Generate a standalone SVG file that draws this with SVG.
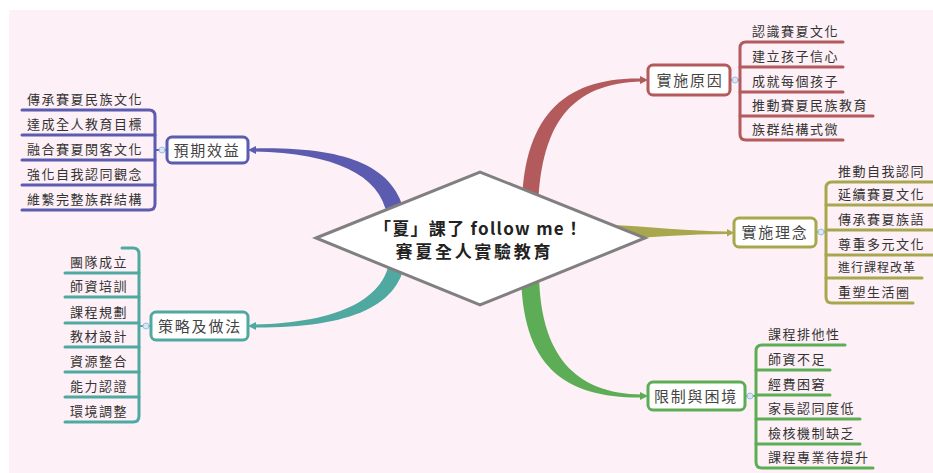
<svg xmlns="http://www.w3.org/2000/svg" width="933" height="473" viewBox="0 0 933 473">
<style>
text{font-family:"Noto Sans CJK TC","Noto Sans",sans-serif}
.it{font-size:13px;letter-spacing:1.5px;fill:#333}
.lb{font-size:15px;letter-spacing:1.8px;fill:#444}
.ct{font-size:17px;font-weight:bold;fill:#222}
.box{fill:#fff;stroke-width:3}
.ln{fill:none;stroke-width:3;stroke-linecap:round}
.red{stroke:#b25a5c}.olv{stroke:#a9a74e}.grn{stroke:#5cad55}.blu{stroke:#5b5bb0}.tea{stroke:#4fa9a0}
.dot{fill:#d6e6f5;stroke:#9cc0e0;stroke-width:1}
</style>
<rect x="0" y="0" width="933" height="473" fill="#fff"/>
<rect x="9" y="10" width="924" height="463" fill="#fdf0f6"/>
<g id="connectors">
<path d="M522 215 C521 115 565 77 642 78.5 L642 81.5 C570 83 539 125 538 215 Z" fill="#b25a5c"/>
<polygon points="640,76 648,80 640,84" fill="#b25a5c"/>
<path d="M600 224 C650 227 690 231 728 231.5 L728 234 C690 234 650 237 600 241 Z" fill="#a9a74e"/>
<polygon points="727,229 734,232.7 727,236.5" fill="#a9a74e"/>
<path d="M521 270 C521 368 565 398 642 397.5 L642 394.5 C575 394 539 355 539 270 Z" fill="#5cad55"/>
<polygon points="640,392 648,396 640,400" fill="#5cad55"/>
<path d="M405 215 C395 165 345 146.5 253 148.5 L253 151.5 C335 153 380 175 387 215 Z" fill="#5b5bb0"/>
<polygon points="256,146 248,150 256,154" fill="#5b5bb0"/>
<path d="M406 255 C402 307 350 328 253 327.5 L253 324.5 C340 323 388 298 390 255 Z" fill="#4fa9a0"/>
<polygon points="256,322 248,326 256,330" fill="#4fa9a0"/>
</g>
<g id="center">
<polygon points="316,238 480,172 645,238 480,305" fill="#fff" stroke="#808080" stroke-width="3"/>
<text class="ct" x="478" y="235" text-anchor="middle" textLength="208" lengthAdjust="spacing">「夏」課了 follow me！</text>
<text class="ct" x="473" y="258" text-anchor="middle" textLength="155" lengthAdjust="spacing">賽夏全人實驗教育</text>
</g>
<g id="n-reason">
<rect class="box red" x="648" y="65" width="82" height="30" rx="5"/>
<text class="lb" x="690" y="86" text-anchor="middle">實施原因</text>
<line class="ln red" x1="730" y1="80" x2="740" y2="80" style="stroke-width:2"/>
<path class="ln red" d="M843 42 H746 Q740 42 740 48 V134 Q740 140 746 140 H843"/>
<line class="ln red" x1="740" y1="67" x2="843" y2="67"/>
<line class="ln red" x1="740" y1="92" x2="843" y2="92"/>
<line class="ln red" x1="740" y1="116" x2="873" y2="116"/>
<circle class="dot" cx="735" cy="80" r="3"/>
<text class="it" x="752" y="36">認識賽夏文化</text>
<text class="it" x="752" y="61">建立孩子信心</text>
<text class="it" x="752" y="86">成就每個孩子</text>
<text class="it" x="752" y="110">推動賽夏民族教育</text>
<text class="it" x="752" y="134">族群結構式微</text>
</g>
<g id="n-idea">
<rect class="box olv" x="734" y="218" width="82" height="29" rx="5"/>
<text class="lb" x="775" y="238" text-anchor="middle">實施理念</text>
<line class="ln olv" x1="816" y1="232" x2="826" y2="232" style="stroke-width:2"/>
<path class="ln olv" d="M933 182 H832 Q826 182 826 188 V297 Q826 303 832 303 H913"/>
<line class="ln olv" x1="826" y1="205" x2="933" y2="205"/>
<line class="ln olv" x1="826" y1="230" x2="933" y2="230"/>
<line class="ln olv" x1="826" y1="255" x2="933" y2="255"/>
<line class="ln olv" x1="826" y1="278" x2="922" y2="278"/>
<circle class="dot" cx="821" cy="232" r="3"/>
<text class="it" x="838" y="176">推動自我認同</text>
<text class="it" x="838" y="199">延續賽夏文化</text>
<text class="it" x="838" y="224">傳承賽夏族語</text>
<text class="it" x="838" y="249">尊重多元文化</text>
<text class="it" x="838" y="272" style="font-size:12px;letter-spacing:1px">進行課程改革</text>
<text class="it" x="838" y="297">重塑生活圈</text>
</g>
<g id="n-limit">
<rect class="box grn" x="648" y="382" width="97" height="28" rx="5"/>
<text class="lb" x="696" y="402" text-anchor="middle">限制與困境</text>
<line class="ln grn" x1="745" y1="396" x2="756" y2="396" style="stroke-width:2"/>
<path class="ln grn" d="M845 345 H762 Q756 345 756 351 V462 Q756 468 762 468 H873"/>
<line class="ln grn" x1="756" y1="370" x2="830" y2="370"/>
<line class="ln grn" x1="756" y1="395" x2="830" y2="395"/>
<line class="ln grn" x1="756" y1="419" x2="860" y2="419"/>
<line class="ln grn" x1="756" y1="444" x2="860" y2="444"/>
<circle class="dot" cx="750" cy="396" r="3"/>
<text class="it" x="768" y="339">課程排他性</text>
<text class="it" x="768" y="364">師資不足</text>
<text class="it" x="768" y="389">經費困窘</text>
<text class="it" x="768" y="413">家長認同度低</text>
<text class="it" x="768" y="438">檢核機制缺乏</text>
<text class="it" x="768" y="462">課程專業待提升</text>
</g>
<g id="n-benefit">
<rect class="box blu" x="167" y="137" width="81" height="26" rx="5"/>
<text class="lb" x="207" y="156" text-anchor="middle">預期效益</text>
<line class="ln blu" x1="155" y1="150" x2="167" y2="150" style="stroke-width:2"/>
<path class="ln blu" d="M22 110 H149 Q155 110 155 116 V204 Q155 210 149 210 H22"/>
<line class="ln blu" x1="22" y1="135" x2="155" y2="135"/>
<line class="ln blu" x1="22" y1="160" x2="155" y2="160"/>
<line class="ln blu" x1="22" y1="185" x2="155" y2="185"/>
<circle class="dot" cx="162" cy="150" r="3"/>
<text class="it" x="27" y="104">傳承賽夏民族文化</text>
<text class="it" x="27" y="129">達成全人教育目標</text>
<text class="it" x="27" y="154">融合賽夏閔客文化</text>
<text class="it" x="27" y="179">強化自我認同觀念</text>
<text class="it" x="27" y="204">維繫完整族群結構</text>
</g>
<g id="n-strategy">
<rect class="box tea" x="151" y="312" width="97" height="28" rx="5"/>
<text class="lb" x="200" y="332" text-anchor="middle">策略及做法</text>
<line class="ln tea" x1="139" y1="326" x2="151" y2="326" style="stroke-width:2"/>
<path class="ln tea" d="M122 248 H133 Q139 248 139 254 V416 Q139 422 133 422 H65"/>
<line class="ln tea" x1="65" y1="273" x2="139" y2="273"/>
<line class="ln tea" x1="65" y1="297" x2="139" y2="297"/>
<line class="ln tea" x1="65" y1="323" x2="139" y2="323"/>
<line class="ln tea" x1="65" y1="347" x2="139" y2="347"/>
<line class="ln tea" x1="65" y1="372" x2="139" y2="372"/>
<line class="ln tea" x1="65" y1="397" x2="139" y2="397"/>
<circle class="dot" cx="146" cy="326" r="3"/>
<text class="it" x="70" y="267">團隊成立</text>
<text class="it" x="70" y="291">師資培訓</text>
<text class="it" x="70" y="317">課程規劃</text>
<text class="it" x="70" y="341">教材設計</text>
<text class="it" x="70" y="366">資源整合</text>
<text class="it" x="70" y="391">能力認證</text>
<text class="it" x="70" y="416">環境調整</text>
</g>
</svg>
